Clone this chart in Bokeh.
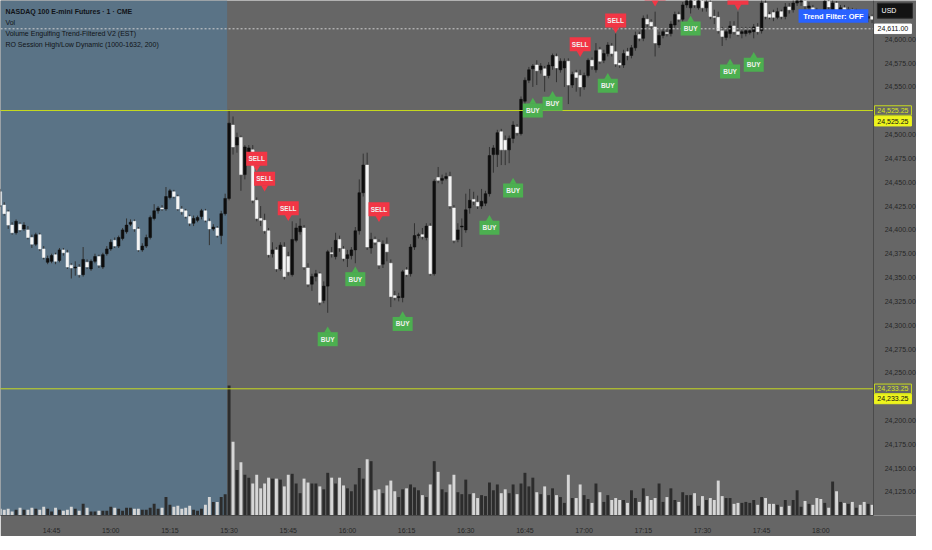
from bokeh.plotting import figure
from bokeh.models import (Range1d, FixedTicker, NumeralTickFormatter,
                          BoxAnnotation, Label, ColumnDataSource)
from bokeh.embed import file_html
from bokeh.resources import INLINE
from bokeh.core.properties import value

# ---------------- data (1-minute NQ bars, 14:32 .. 18:13) ----------------
first_bar = "14:32"
opens = [24440,24426,24419,24405,24397,24406,24401,24400,24392,24385,24395,24380,24366,24367,24374,24368,24379,24376,24363,24360,
         24361,24353,24366,24359,24367,24372,24361,24375,24380,24389,24383,24391,24398,24406,24409,24401,24379,24383,24392,24412,
         24420,24423,24422,24434,24440,24435,24422,24420,24414,24407,24410,24414,24420,24409,24401,24402,24394,24417,24433,24510,
         24489,24497,24458,24476,24484,24431,24412,24410,24399,24375,24379,24359,24382,24372,24353,24389,24398,24402,24360,24343,
         24351,24354,24326,24341,24376,24372,24390,24380,24370,24373,24379,24399,24439,24468,24381,24390,24387,24364,24385,24365,
         24331,24329,24329,24358,24354,24382,24394,24395,24392,24404,24354,24455,24452,24454,24456,24423,24390,24403,24400,24423,
         24432,24429,24425,24428,24438,24479,24479,24503,24494,24484,24496,24508,24501,24535,24557,24569,24573,24568,24569,24562,
         24572,24582,24568,24570,24577,24552,24565,24562,24550,24562,24578,24568,24589,24578,24585,24593,24587,24575,24573,24587,
         24583,24591,24605,24601,24621,24618,24613,24594,24604,24607,24606,24615,24626,24621,24636,24633,24643,24633,24641,24633,
         24639,24624,24623,24609,24602,24606,24614,24608,24606,24606,24607,24608,24613,24609,24638,24626,24628,24623,24629,24624,
         24634,24631,24638,24639,24643,24633,24633,24629,24626,24624,24640,24630,24638,24631,24633,24629,24631,24627,24629,24625,
         24622,24624]
highs = [24443,24429,24421,24408,24411,24408,24408,24404,24395,24397,24397,24383,24373,24375,24376,24381,24381,24379,24365,24367,
         24364,24382,24369,24369,24375,24374,24376,24383,24390,24392,24394,24402,24412,24411,24411,24403,24386,24395,24415,24427,
         24425,24426,24445,24443,24442,24437,24425,24422,24416,24415,24415,24422,24422,24412,24406,24404,24420,24438,24526,24519,
         24502,24499,24489,24489,24489,24434,24425,24417,24402,24387,24382,24387,24387,24377,24409,24407,24412,24405,24365,24354,
         24358,24356,24346,24379,24382,24397,24394,24383,24379,24382,24403,24453,24480,24481,24397,24393,24390,24389,24392,24369,
         24336,24334,24358,24361,24385,24407,24397,24402,24407,24407,24453,24466,24458,24460,24461,24426,24407,24412,24438,24443,
         24440,24436,24443,24441,24487,24489,24505,24506,24499,24499,24514,24511,24540,24560,24571,24574,24578,24575,24572,24576,
         24585,24585,24580,24580,24580,24566,24568,24568,24565,24580,24581,24596,24592,24589,24597,24596,24606,24578,24589,24591,
         24594,24608,24608,24625,24626,24621,24629,24608,24611,24611,24619,24629,24629,24639,24645,24644,24647,24646,24645,24643,
         24641,24631,24629,24613,24611,24619,24619,24629,24613,24613,24613,24616,24617,24641,24641,24629,24631,24633,24631,24638,
         24638,24641,24648,24646,24645,24639,24636,24633,24629,24643,24642,24641,24640,24636,24636,24634,24633,24632,24631,24628,
         24627,24626]
lows = [24424,24415,24401,24395,24395,24398,24399,24390,24381,24383,24378,24369,24364,24365,24364,24366,24373,24359,24349,24352,
        24350,24351,24359,24357,24365,24360,24359,24373,24378,24381,24381,24389,24396,24404,24398,24377,24377,24381,24390,24410,
        24417,24420,24420,24432,24433,24420,24416,24412,24404,24404,24408,24411,24408,24384,24399,24392,24385,24415,24431,24479,
        24481,24441,24453,24470,24428,24409,24404,24396,24371,24371,24356,24357,24348,24352,24351,24387,24395,24358,24340,24336,
        24346,24321,24323,24313,24371,24369,24377,24367,24361,24369,24365,24395,24435,24379,24375,24384,24359,24360,24367,24319,
        24326,24325,24324,24351,24351,24379,24391,24390,24389,24352,24352,24449,24448,24452,24422,24386,24387,24382,24397,24417,
        24426,24422,24422,24425,24435,24460,24466,24468,24468,24470,24491,24499,24499,24532,24554,24550,24552,24564,24545,24559,
        24568,24555,24565,24550,24532,24549,24545,24540,24547,24560,24568,24565,24574,24575,24582,24582,24571,24570,24570,24578,
        24580,24588,24598,24598,24613,24611,24582,24591,24601,24603,24603,24612,24618,24618,24633,24627,24633,24631,24629,24629,
        24621,24616,24606,24593,24599,24601,24605,24603,24601,24603,24605,24601,24605,24606,24621,24621,24619,24621,24621,24621,
        24627,24628,24635,24635,24631,24629,24626,24623,24621,24622,24631,24627,24628,24629,24626,24627,24624,24625,24622,24619,
        24618,24617]
closes = [24426,24417,24405,24397,24409,24400,24405,24392,24385,24395,24380,24371,24370,24373,24367,24379,24376,24361,24360,24361,
          24353,24369,24361,24367,24372,24363,24374,24380,24387,24383,24392,24400,24405,24408,24401,24379,24383,24392,24413,24420,
          24423,24422,24435,24441,24435,24422,24419,24414,24407,24412,24413,24420,24410,24401,24403,24394,24417,24433,24512,24487,
          24497,24458,24487,24486,24431,24412,24410,24399,24374,24379,24359,24384,24351,24356,24390,24402,24404,24361,24343,24351,
          24354,24324,24341,24377,24375,24389,24381,24370,24374,24379,24399,24439,24468,24382,24390,24387,24363,24385,24377,24330,
          24329,24330,24356,24353,24382,24394,24395,24393,24404,24354,24451,24452,24454,24456,24425,24389,24400,24404,24421,24431,
          24430,24425,24430,24438,24478,24486,24502,24484,24484,24496,24510,24502,24537,24557,24568,24572,24567,24572,24562,24573,
          24583,24570,24577,24577,24552,24563,24560,24550,24562,24578,24572,24588,24577,24585,24594,24585,24574,24573,24585,24583,
          24591,24604,24601,24622,24616,24614,24596,24604,24608,24606,24616,24626,24621,24636,24641,24641,24636,24643,24633,24639,
          24624,24623,24609,24603,24608,24614,24608,24605,24608,24609,24609,24613,24608,24638,24624,24623,24623,24629,24624,24634,
          24631,24638,24644,24643,24635,24635,24629,24626,24624,24640,24634,24638,24631,24633,24629,24631,24627,24629,24625,24622,
          24624,24621]
volumes = [140,120,140,80,120,160,120,120,160,140,120,180,140,80,160,120,100,120,180,140,
           100,240,160,80,80,100,100,100,180,160,140,100,160,160,140,140,120,120,160,240,
           140,160,380,220,180,200,140,160,200,120,100,140,220,380,280,280,380,440,2680,1520,
           940,1100,840,780,660,840,560,660,780,760,760,740,600,840,860,660,460,760,680,660,
           660,600,540,880,780,660,780,620,560,500,640,980,760,1160,1120,520,540,460,620,720,
           500,380,540,560,640,580,520,420,380,640,1120,900,540,480,640,840,480,440,740,440,
           460,360,420,400,680,520,640,460,540,460,640,440,660,880,600,780,480,440,600,420,
           560,420,380,260,840,360,360,640,420,340,260,660,480,280,420,320,360,320,320,260,
           520,360,280,560,400,320,360,660,280,380,560,320,280,480,420,420,460,200,400,320,
           360,320,720,400,360,360,240,260,260,280,260,320,220,380,360,240,240,220,180,320,
           200,320,520,180,300,240,220,360,340,260,160,700,500,280,260,240,280,160,220,280,
           240,220]

buy_bars = [83, 90, 102, 124, 130, 135, 140, 154, 175, 185, 191]
buy_price = [24297, 24360, 24313, 24414, 24453, 24537, 24544, 24563, 24623, 24578, 24585]
sell_bars = [65, 67, 73, 96, 147, 156, 166, 187]
sell_price = [24463, 24442, 24411, 24410, 24583, 24608, 24636, 24632]

session_start = "15:30"
last_price = 24611.00
session_high = 24525.25
session_low = 24233.25
price_ticks = [24125, 24150, 24175, 24200, 24250, 24275, 24300, 24325, 24350, 24375, 24400,
               24425, 24450, 24475, 24500, 24550, 24575, 24600]
time_ticks = ["14:45", "15:00", "15:15", "15:30", "15:45", "16:00", "16:15", "16:30", "16:45",
              "17:00", "17:15", "17:30", "17:45", "18:00"]
title_lines = ["NASDAQ 100 E-mini Futures \u00b7 1 \u00b7 CME", "Vol",
               "Volume Engulfing Trend-Filtered V2 (EST)",
               "RO Session High/Low Dynamic (1000-1632, 200)"]

# ---------------- helpers ----------------
def minutes(t):
    h, m = t.split(":")
    return int(h) * 60 + int(m)

m0 = minutes(first_bar)
n = len(closes)
xs = [m0 + i for i in range(n)]

# reference geometry: price pane 0..888 px wide (axis strip to 932), 0..531 px high
X0, X1 = m0 + 0.05, m0 + 221.3
Y0, Y1 = 24100.3, 24640.7
XR = X0 + (X1 - X0) * 932.0 / 888.0
FW, FH = 916, 515
ry = (Y1 - Y0) / 531.0          # price per reference pixel

def dx(px):
    return X0 + px / 888.0 * (X1 - X0)

def dy(py):
    return Y1 - py * ry

FONT = "Liberation Sans"
UP_BODY, DN_BODY = "#0e0e0e", "#f4f4f4"
UP_VOL, DN_VOL = "#2c2c2c", "#d6d6d6"

tops, bots, bcol, vcol = [], [], [], []
for o, c in zip(opens, closes):
    hi, lo = max(o, c), min(o, c)
    if hi - lo < 0.8:
        mid = (hi + lo) / 2
        hi, lo = mid + 0.5, mid - 0.5
    tops.append(hi)
    bots.append(lo)
    up = c >= o
    bcol.append(UP_BODY if up else DN_BODY)
    vcol.append(UP_VOL if up else DN_VOL)

src = ColumnDataSource(dict(x=xs, o=opens, h=highs, l=lows, c=closes, top=tops, bot=bots,
                            bc=bcol, vc=vcol, vol=volumes))

p = figure(frame_width=FW, frame_height=FH, output_backend="svg", toolbar_location=None,
           x_range=Range1d(X0, XR), y_range=Range1d(Y0, Y1), y_axis_location="right",
           min_border_left=0, min_border_top=0, min_border_right=0, min_border_bottom=19)
p.background_fill_color = "#666666"
p.border_fill_color = "#666666"
p.outline_line_color = None
p.grid.visible = False
p.extra_y_ranges = {"vol": Range1d(0, 531 * 20)}

# pre-session shading
p.add_layout(BoxAnnotation(right=minutes(session_start) - 0.5, fill_color="#5a7386",
                           fill_alpha=1, line_color=None, level="underlay"))

# volume
p.vbar(x="x", top="vol", bottom=0, width=0.74, source=src, y_range_name="vol",
       fill_color="vc", line_color=None)
# candles
p.segment(x0="x", y0="h", x1="x", y1="l", source=src, line_color="#333333", line_width=1)
p.vbar(x="x", top="top", bottom="bot", width=0.68, source=src, fill_color="bc", line_color="bc",
       line_width=0.5)

# horizontal levels (only across the price pane)
p.segment(x0=[X0 - 1], y0=[last_price], x1=[X1], y1=[last_price], line_color="#d0d0d0",
          line_dash="2 2", line_width=1)
p.segment(x0=[X0 - 1, X0 - 1], y0=[session_high, session_low], x1=[X1, X1],
          y1=[session_high, session_low], line_color="#c8da1e", line_width=1)

# BUY / SELL labels
bx = [m0 + b for b in buy_bars]
sx = [m0 + s for s in sell_bars]
p.scatter(bx, [v - 2.5 * ry for v in buy_price], marker="triangle", size=7,
          fill_color="#4caf50", line_color=None)
p.rect(bx, [v - 11.5 * ry for v in buy_price], width=20, height=14, width_units="screen",
       height_units="screen", fill_color="#4caf50", line_color=None)
p.text(bx, [v - 11.5 * ry for v in buy_price], text=["BUY"] * len(bx), text_color="#f0f0f0",
       text_font=value(FONT), text_font_size="6.5px", text_font_style="bold",
       text_align="center", text_baseline="middle")
p.scatter(sx, [v + 2.5 * ry for v in sell_price], marker="inverted_triangle", size=7,
          fill_color="#f23645", line_color=None)
p.rect(sx, [v + 11.5 * ry for v in sell_price], width=21, height=14, width_units="screen",
       height_units="screen", fill_color="#f23645", line_color=None)
p.text(sx, [v + 11.5 * ry for v in sell_price], text=["SELL"] * len(sx), text_color="#f0f0f0",
       text_font=value(FONT), text_font_size="6.5px", text_font_style="bold",
       text_align="center", text_baseline="middle")

# title block
for k, t in enumerate(title_lines):
    p.add_layout(Label(x=dx(5), y=dy(11 + 11.5 * k), text=t, text_font=FONT,
                       text_font_size="7px", text_color="#111418",
                       text_font_style="bold" if k == 0 else "normal",
                       text_baseline="middle"))

# trend filter box
p.add_layout(BoxAnnotation(left=dx(812), right=dx(883), top=dy(9), bottom=dy(23),
                           fill_color="#2962ff", fill_alpha=1, line_color=None))
p.add_layout(Label(x=dx(847.5), y=dy(16), text="Trend Filter: OFF", text_font=FONT,
                   text_font_size="7.5px", text_font_style="bold", text_color="#ffffff",
                   text_align="center", text_baseline="middle"))

# price-axis tags (drawn in the axis strip)
tag_x = dx(908)
tag_y = [last_price, session_high, session_high - 11 * ry, session_low, session_low - 10.5 * ry]
tag_txt = [f"{last_price:,.2f}", f"{session_high:,.2f}", f"{session_high:,.2f}",
           f"{session_low:,.2f}", f"{session_low:,.2f}"]
tag_fill = ["#ffffff", "#666666", "#eef51c", "#666666", "#eef51c"]
tag_line = ["#ffffff", "#c8da1e", "#eef51c", "#c8da1e", "#eef51c"]
tag_fg = ["#111111", "#d8e61c", "#111111", "#d8e61c", "#111111"]
p.rect([tag_x] * 5, tag_y, width=37, height=9.5, width_units="screen", height_units="screen",
       fill_color=tag_fill, line_color=tag_line, line_width=1)
p.text([tag_x] * 5, tag_y, text=tag_txt, text_color=tag_fg, text_font=value(FONT),
       text_font_size="7px", text_align="center", text_baseline="middle")
p.rect([dx(910)], [dy(10.5)], width=35, height=15, width_units="screen", height_units="screen",
       fill_color="#131313", line_color="#2a2a2a")
p.text([dx(896.5)], [dy(10.5)], text=["USD"], text_color="#ffffff", text_font=value(FONT),
       text_font_size="7px", text_align="left", text_baseline="middle")

# axes
p.yaxis.fixed_location = X1 + 0.1
p.yaxis.ticker = FixedTicker(ticks=price_ticks)
p.yaxis.formatter = NumeralTickFormatter(format="0,0.00")
p.xaxis.ticker = FixedTicker(ticks=[minutes(t) for t in time_ticks])
p.xaxis.major_label_overrides = {minutes(t): t for t in time_ticks}
p.xaxis.bounds = (X0, X1)
for ax in (p.xaxis, p.yaxis):
    ax.axis_line_color = "#4a4a4a"
    ax.major_tick_line_color = None
    ax.minor_tick_line_color = None
    ax.major_label_text_font = FONT
    ax.major_label_text_font_size = "7px"
    ax.major_label_text_color = "#262626"
    ax.major_label_standoff = 5

open("out.html", "w").write(file_html(p, INLINE))
